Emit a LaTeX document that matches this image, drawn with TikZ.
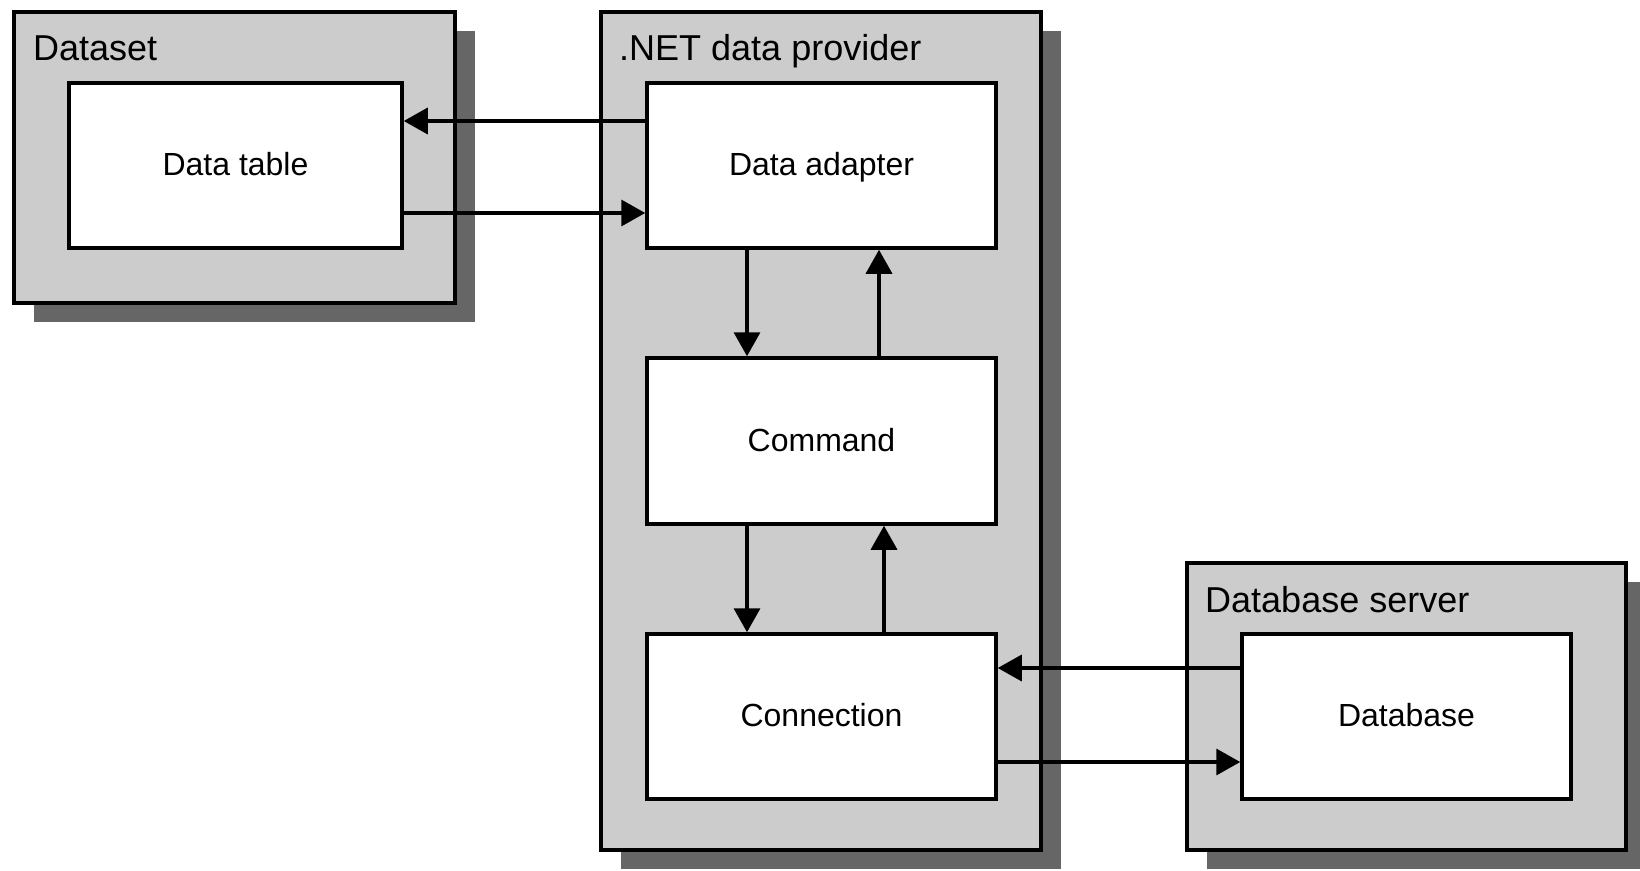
\documentclass[tikz,border=0pt]{standalone}
\usepackage{fontspec}
\setmainfont{Liberation Sans}
\usetikzlibrary{arrows.meta,shadows}
\definecolor{panelgray}{HTML}{CCCCCC}
\definecolor{shadowgray}{HTML}{666666}
\begin{document}
\begin{tikzpicture}[x=1pt,y=-1pt,
  panel/.style={draw=black, line width=4.5pt, fill=panelgray,
    drop shadow={shadow xshift=20pt, shadow yshift=-18.5pt, fill=shadowgray, opacity=1}},
  innerbox/.style={draw=black, line width=3.5pt, fill=white,
    text height=23pt, text depth=3pt,
    font=\fontsize{32}{38}\selectfont},
  paneltitle/.style={anchor=base west, inner sep=0pt, font=\fontsize{36}{43}\selectfont},
  arr/.style={line width=3.5pt, -{Triangle[length=24pt,width=26pt]}}]
\useasboundingbox[fill=white] (0,0) rectangle (1640,870);

% outer panels
\node[panel, minimum width=441pt, minimum height=291pt] (dataset) at (234.5,157.5) {};
\node[panel, minimum width=440pt, minimum height=838pt] (provider) at (821,431) {};
\node[panel, minimum width=439pt, minimum height=287pt] (server) at (1406.5,706.5) {};

% panel titles
\node[paneltitle] (datasetT) at (33,60) {Dataset};
\node[paneltitle] (providerT) at (619,60) {.NET data provider};
\node[paneltitle] (serverT) at (1205,612) {Database server};

% inner components
\node[innerbox, minimum width=333pt, minimum height=165pt] (table) at (235.5,165.5) {Data table};
\node[innerbox, minimum width=349pt, minimum height=165pt] (adapter) at (821.5,165.5) {Data adapter};
\node[innerbox, minimum width=349pt, minimum height=166pt] (command) at (821.5,441) {Command};
\node[innerbox, minimum width=349pt, minimum height=165pt] (connection) at (821.5,716.5) {Connection};
\node[innerbox, minimum width=329pt, minimum height=165pt] (database) at (1406.5,716.5) {Database};

% data flow
\draw[arr] ([yshift=44.5pt]adapter.west) -- ([yshift=44.5pt]table.east);
\draw[arr] ([yshift=-47.5pt]table.east) -- ([yshift=-47.5pt]adapter.west);
\draw[arr] ([xshift=-74.5pt]adapter.south) -- ([xshift=-74.5pt]command.north);
\draw[arr] ([xshift=57.5pt]command.north) -- ([xshift=57.5pt]adapter.south);
\draw[arr] ([xshift=-74.5pt]command.south) -- ([xshift=-74.5pt]connection.north);
\draw[arr] ([xshift=62.5pt]connection.north) -- ([xshift=62.5pt]command.south);
\draw[arr] ([yshift=48.5pt]database.west) -- ([yshift=48.5pt]connection.east);
\draw[arr] ([yshift=-45.5pt]connection.east) -- ([yshift=-45.5pt]database.west);
\end{tikzpicture}
\end{document}
